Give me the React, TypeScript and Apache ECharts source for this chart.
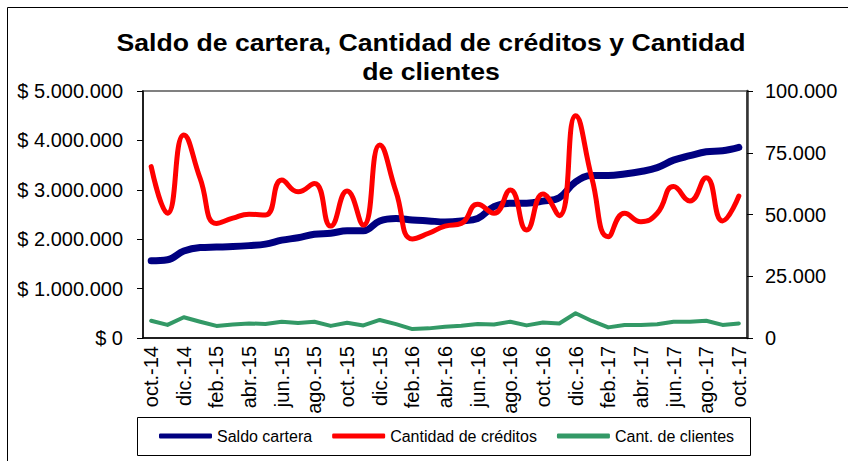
import React, { useEffect, useRef } from "react";
import * as echarts from "echarts";

const categories = [
  "oct.-14", "nov.-14", "dic.-14", "ene.-15", "feb.-15", "mar.-15", "abr.-15", "may.-15", "jun.-15", "jul.-15",
  "ago.-15", "sep.-15", "oct.-15", "nov.-15", "dic.-15", "ene.-16", "feb.-16", "mar.-16", "abr.-16", "may.-16",
  "jun.-16", "jul.-16", "ago.-16", "sep.-16", "oct.-16", "nov.-16", "dic.-16", "ene.-17", "feb.-17", "mar.-17",
  "abr.-17", "may.-17", "jun.-17", "jul.-17", "ago.-17", "sep.-17", "oct.-17",
];

const saldoCartera = [
  1565000, 1585000, 1760000, 1830000, 1840000, 1850000, 1870000, 1900000, 1980000, 2030000,
  2100000, 2120000, 2170000, 2170000, 2370000, 2420000, 2390000, 2370000, 2350000, 2370000,
  2420000, 2660000, 2730000, 2730000, 2770000, 2840000, 3160000, 3290000, 3290000, 3320000,
  3370000, 3450000, 3600000, 3690000, 3770000, 3790000, 3860000,
];

const cantidadCreditos = [
  69400, 50500, 82200, 64600, 46400, 48500, 50100, 49800, 64000, 59200,
  62600, 45300, 59500, 45700, 78100, 59200, 40100, 42400, 45300, 46400,
  54100, 50500, 59900, 43700, 58300, 49500, 90000, 64600, 41000, 50500,
  47100, 50500, 61300, 55500, 64900, 47400, 57500,
];

const cantClientes = [
  7000, 5300, 8400, 6600, 4900, 5500, 5900, 5700, 6600, 6100,
  6600, 4900, 6200, 5100, 7300, 5600, 3600, 3900, 4600, 5000,
  5700, 5500, 6600, 5100, 6300, 5900, 10000, 6900, 4300, 5300,
  5300, 5600, 6600, 6600, 7000, 5300, 5900,
];

const seriesNames = ["Saldo cartera", "Cantidad de créditos", "Cant. de clientes"];
const titleText = "Saldo de cartera, Cantidad de créditos y Cantidad\nde clientes";

const FONT = "'Liberation Sans', Arial, sans-serif";

function fmtThousands(v: number): string {
  return Math.round(v).toString().replace(/\B(?=(\d{3})+(?!\d))/g, ".");
}

export default function App() {
  const ref = useRef<HTMLDivElement>(null);
  useEffect(() => {
    if (!ref.current) return;
    const chart = echarts.init(ref.current, undefined, { renderer: "svg" });
    chart.setOption({
      animation: false,
      backgroundColor: "#ffffff",
      textStyle: { fontFamily: FONT },
      graphic: [
        {
          type: "rect",
          shape: { x: 7.5, y: 7.5, width: 900, height: 500 },
          style: { fill: "none", stroke: "#000", lineWidth: 1 },
          silent: true,
        },
        {
          type: "text",
          x: 431,
          y: 57,
          scaleX: 1.11,
          style: {
            text: titleText,
            align: "center",
            verticalAlign: "middle",
            font: "bold 24px 'Liberation Sans', Arial, sans-serif",
            lineHeight: 29,
            fill: "#000",
          },
        },
        {
          type: "rect",
          shape: { x: 137.5, y: 417.5, width: 613, height: 38 },
          style: { fill: "none", stroke: "#000", lineWidth: 1 },
          silent: true,
        },
      ],
      legend: {
        left: 159,
        top: 428,
        padding: 0,
        itemGap: 20,
        itemWidth: 53,
        itemHeight: 5,
        icon: "roundRect",
        textStyle: { fontSize: 16, color: "#000", fontFamily: FONT },
        data: seriesNames,
      },
      grid: {
        left: 143,
        right: 101,
        top: 91,
        bottom: 123,
        show: true,
        borderColor: "#808080",
        borderWidth: 2,
      },
      xAxis: {
        type: "category",
        data: categories,
        boundaryGap: true,
        axisLine: { lineStyle: { color: "#000", width: 1.5 } },
        axisTick: { interval: 1, length: 6, lineStyle: { color: "#000" } },
        axisLabel: {
          interval: 1,
          rotate: 90,
          margin: 8,
          fontSize: 20,
          color: "#000",
          fontFamily: FONT,
        },
        splitLine: { show: false },
      },
      yAxis: [
        {
          type: "value",
          min: 0,
          max: 5000000,
          interval: 1000000,
          position: "left",
          axisLine: { show: true, lineStyle: { color: "#000", width: 1.5 } },
          axisTick: { show: true, length: 6, lineStyle: { color: "#000" } },
          axisLabel: {
            fontSize: 20,
            color: "#000",
            margin: 20,
            fontFamily: FONT,
            formatter: (v: number) => "$ " + fmtThousands(v),
          },
          splitLine: { show: false },
        },
        {
          type: "value",
          min: 0,
          max: 100000,
          interval: 25000,
          position: "right",
          axisLine: { show: true, lineStyle: { color: "#333", width: 2.5 } },
          axisTick: { show: true, length: 6, lineStyle: { color: "#000" } },
          axisLabel: {
            fontSize: 20,
            color: "#000",
            margin: 18,
            fontFamily: FONT,
            formatter: (v: number) => fmtThousands(v),
          },
          splitLine: { show: false },
        },
      ],
      series: [
        {
          name: seriesNames[0],
          type: "line",
          yAxisIndex: 0,
          data: saldoCartera,
          smooth: 0.4,
          showSymbol: false,
          color: "#000080",
          lineStyle: { width: 7, color: "#000080", cap: "round", join: "round" },
          z: 3,
        },
        {
          name: seriesNames[1],
          type: "line",
          yAxisIndex: 1,
          data: cantidadCreditos,
          smooth: 0.5,
          showSymbol: false,
          color: "#FF0000",
          lineStyle: { width: 5, color: "#FF0000", cap: "round", join: "round" },
          z: 4,
        },
        {
          name: seriesNames[2],
          type: "line",
          yAxisIndex: 1,
          data: cantClientes,
          smooth: false,
          showSymbol: false,
          color: "#339966",
          lineStyle: { width: 4, color: "#339966", cap: "round", join: "round" },
          z: 2,
        },
      ],
    });
    return () => chart.dispose();
  }, []);
  return (
    <div
      ref={ref}
      style={{ position: "fixed", left: 0, top: 0, width: 848, height: 461, background: "#fff" }}
    />
  );
}
